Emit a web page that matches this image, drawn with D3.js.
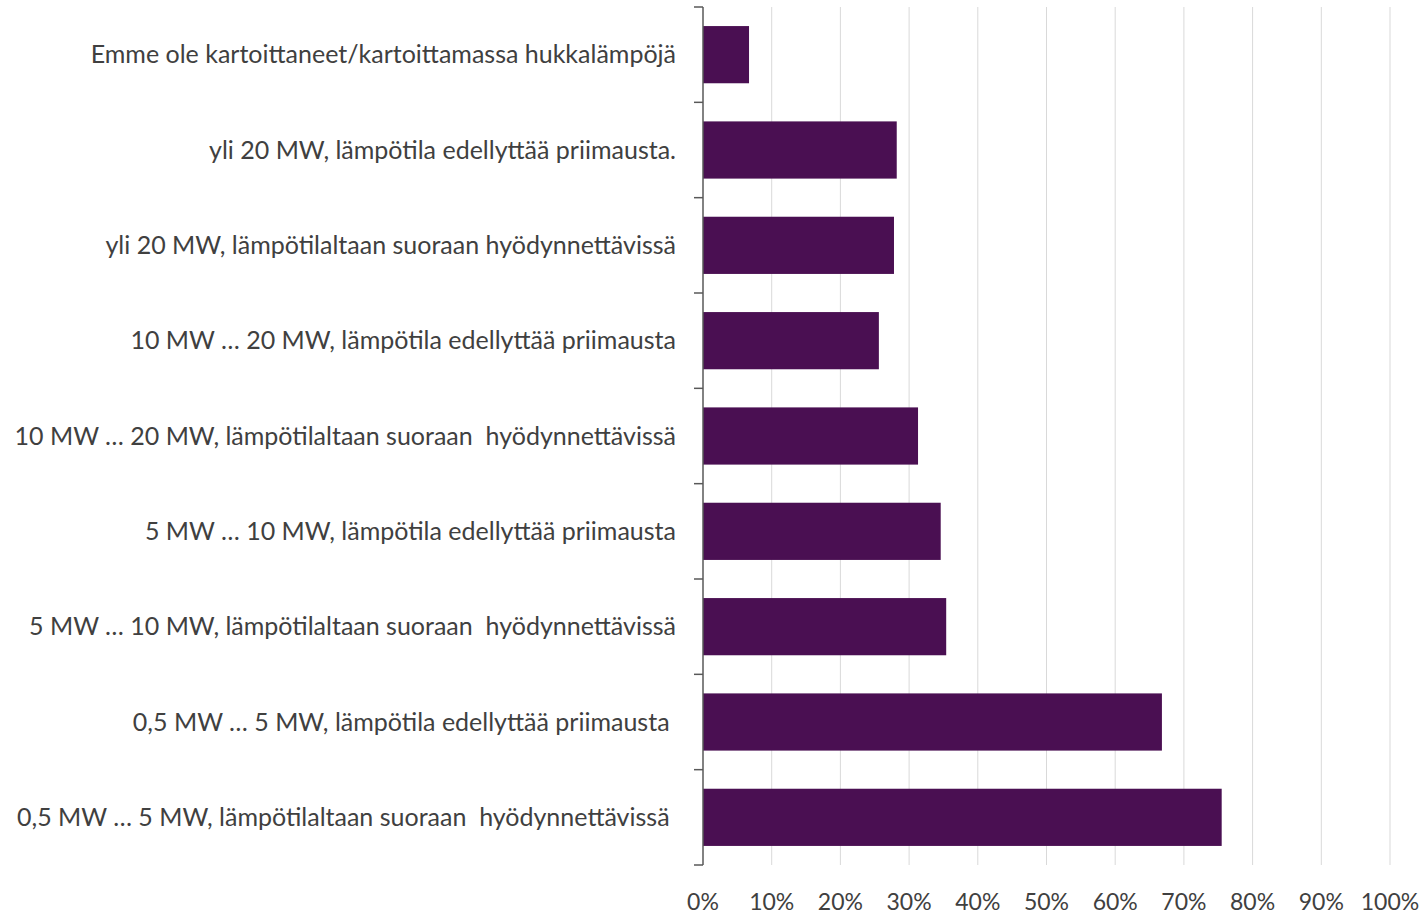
<!DOCTYPE html>
<html>
  <head>
    <meta charset="utf-8">
    <script src="https://d3js.org/d3.v7.min.js"></script>
    <style>
    body { margin: 0; background: #fff; }
    svg text { font-family: Lato, "Noto Sans", sans-serif; fill: #404040; }
    .lbl { white-space: pre; }
    </style>
  </head>
  <body>
    <script>
      // categories top to bottom
      const categories = [
        'Emme ole kartoittaneet/kartoittamassa hukkalämpöjä',
        'yli 20 MW, lämpötila edellyttää priimausta.',
        'yli 20 MW, lämpötilaltaan suoraan hyödynnettävissä',
        '10 MW … 20 MW, lämpötila edellyttää priimausta',
        '10 MW … 20 MW, lämpötilaltaan suoraan  hyödynnettävissä',
        '5 MW … 10 MW, lämpötila edellyttää priimausta',
        '5 MW … 10 MW, lämpötilaltaan suoraan  hyödynnettävissä',
        '0,5 MW … 5 MW, lämpötila edellyttää priimausta ',
        '0,5 MW … 5 MW, lämpötilaltaan suoraan  hyödynnettävissä '
      ]
      const values = [0.067, 0.282, 0.278, 0.256, 0.313, 0.346, 0.354, 0.668, 0.755]
      const ticks = [0, 0.1, 0.2, 0.3, 0.4, 0.5, 0.6, 0.7, 0.8, 0.9, 1]

      const w = 1424, h = 914
      const pLeft = 703, pRight = 1390, pTop = 7, pBottom = 865

      let svg = d3.select('body').append('svg')
                  .attr('width', w)
                  .attr('height', h)

      let x = d3.scaleLinear().domain([0, 1]).range([pLeft, pRight])
      let y = d3.scaleBand().domain(categories).range([pTop, pBottom])
                .paddingInner(0.4).paddingOuter(0.2)

      // gridlines
      svg.append('g').selectAll('line')
         .data(ticks.slice(1))
         .enter().append('line')
         .attr('x1', d => x(d)).attr('x2', d => x(d))
         .attr('y1', pTop).attr('y2', pBottom)
         .attr('stroke', '#d9d9d9').attr('stroke-width', 1)

      // bars
      svg.append('g').selectAll('rect')
         .data(values)
         .enter().append('rect')
         .attr('x', x(0))
         .attr('y', (d, i) => y(categories[i]))
         .attr('width', d => x(d) - x(0))
         .attr('height', y.bandwidth())
         .attr('fill', '#4a0f52')

      // y axis with ticks between categories
      let yAxis = svg.append('g')
      yAxis.append('line')
           .attr('x1', pLeft).attr('x2', pLeft)
           .attr('y1', pTop).attr('y2', pBottom)
           .attr('stroke', '#595959').attr('stroke-width', 1.5)
      let step = (pBottom - pTop) / categories.length
      yAxis.selectAll('.tk')
           .data(d3.range(categories.length + 1))
           .enter().append('line')
           .attr('class', 'tk')
           .attr('x1', pLeft - 9).attr('x2', pLeft)
           .attr('y1', i => pTop + i * step)
           .attr('y2', i => pTop + i * step)
           .attr('stroke', '#595959').attr('stroke-width', 1.5)

      // category labels
      svg.append('g').selectAll('text')
         .data(categories)
         .enter().append('text')
         .attr('class', 'lbl')
         .attr('x', 676)
         .attr('y', d => y(d) + y.bandwidth() / 2)
         .attr('dy', '0.35em')
         .attr('text-anchor', 'end')
         .style('font-size', '25px')
         .text(d => d)

      // x tick labels
      svg.append('g').selectAll('text')
         .data(ticks)
         .enter().append('text')
         .attr('x', d => x(d))
         .attr('y', 910)
         .attr('text-anchor', 'middle')
         .style('font-size', '23px')
         .text(d => d3.format('.0%')(d))
    </script>
  </body>
</html>
